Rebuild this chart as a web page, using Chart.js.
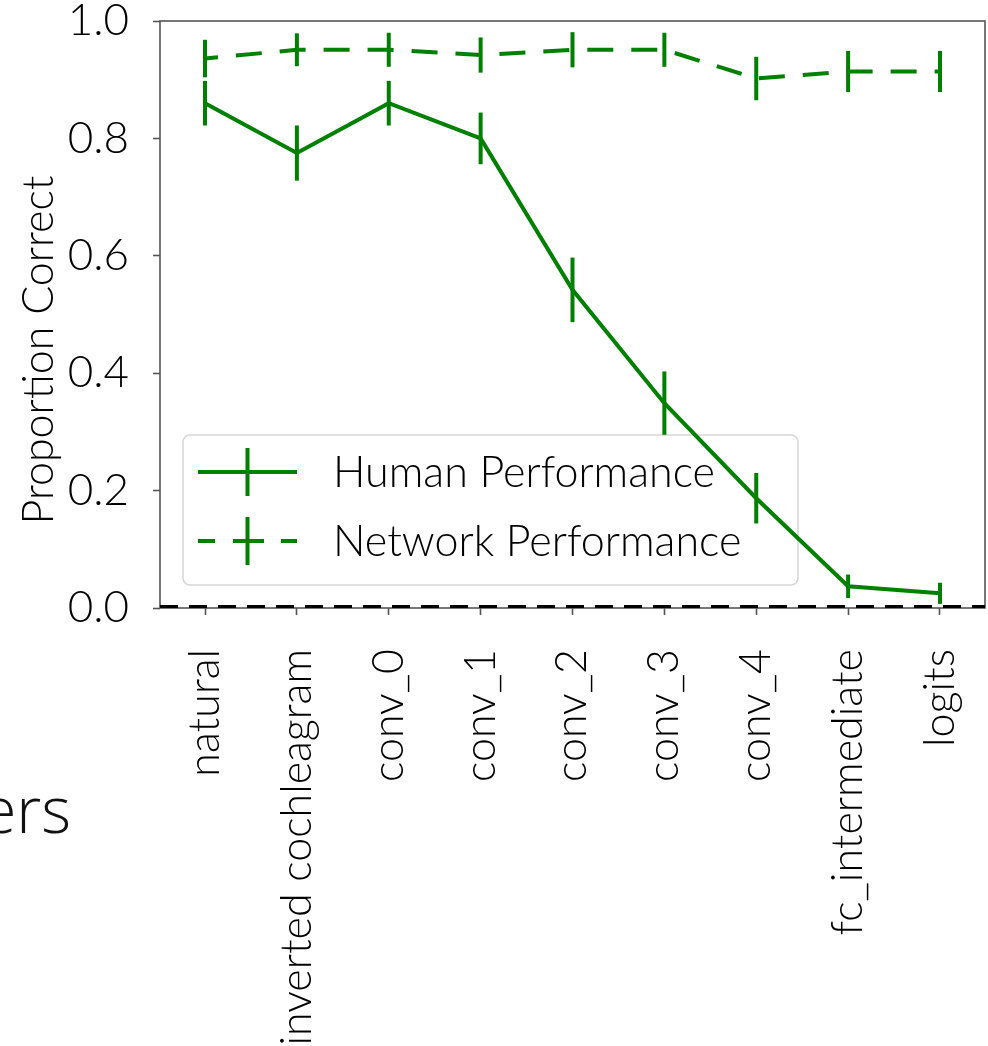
<!DOCTYPE html>
<html>
<head>
<meta charset="utf-8">
<script src="https://cdn.jsdelivr.net/npm/chart.js@4.4.1/dist/chart.umd.min.js"></script>
<style>
  html, body { margin: 0; padding: 0; background: #ffffff; }
  #wrap { width: 988px; height: 1046px; position: relative; }
  canvas { display: block; }
</style>
</head>
<body>
<div id="wrap"><canvas id="c" width="988" height="1046"></canvas></div>
<script>
// Model stages along the x axis
const stages = ['natural', 'inverted cochleagram', 'conv_0', 'conv_1', 'conv_2',
                'conv_3', 'conv_4', 'fc_intermediate', 'logits'];

// Proportion correct per stage, with error bar half-widths
const humanPerf  = [0.860, 0.775, 0.860, 0.800, 0.542, 0.349, 0.187, 0.037, 0.025];
const humanErr   = [0.038, 0.047, 0.038, 0.044, 0.055, 0.054, 0.043, 0.020, 0.018];
const networkPerf = [0.936, 0.951, 0.951, 0.942, 0.951, 0.951, 0.902, 0.914, 0.914];
const networkErr  = [0.032, 0.028, 0.029, 0.030, 0.030, 0.029, 0.037, 0.035, 0.035];

// y-axis tick values
const yTicks = [0.0, 0.2, 0.4, 0.6, 0.8, 1.0];

const seriesNames = ['Human Performance', 'Network Performance'];
const yTitle = 'Proportion Correct';
const GREEN = '#008000';
const TEXT = '#000000';
const FONT = 'Lato, "Open Sans", sans-serif';
const WEIGHT = 300;

const toPoints = arr => arr.map((v, i) => ({ x: i, y: v }));

// Keep the plot box fixed: no extra room for overhanging tick labels
function noOverhang(scale) {
  scale.paddingTop = 0;
  scale.paddingBottom = 0;
  scale.paddingLeft = 0;
  scale.paddingRight = 0;
}

// Vertical error bars drawn through the scales
const errorBars = {
  id: 'errorBars',
  afterDatasetsDraw(chart) {
    const { ctx, scales: { x, y }, chartArea } = chart;
    ctx.save();
    ctx.beginPath();
    ctx.rect(chartArea.left, chartArea.top, chartArea.right - chartArea.left, chartArea.bottom - chartArea.top);
    ctx.clip();
    chart.data.datasets.forEach(ds => {
      if (!ds.errors) return;
      ctx.strokeStyle = ds.borderColor;
      ctx.lineWidth = 4;
      ctx.lineCap = 'butt';
      ctx.setLineDash([]);
      ds.data.forEach((p, i) => {
        const px = x.getPixelForValue(p.x);
        const y1 = y.getPixelForValue(p.y + ds.errors[i]);
        const y2 = y.getPixelForValue(p.y - ds.errors[i]);
        ctx.beginPath();
        ctx.moveTo(px, y1);
        ctx.lineTo(px, y2);
        ctx.stroke();
      });
    });
    ctx.restore();
  }
};

// Frame, legend, axis title, dashed zero line and the stray caption
const decorations = {
  id: 'decorations',
  beforeDatasetsDraw(chart) {
    const { ctx, chartArea: a } = chart;
    ctx.save();
    ctx.strokeStyle = '#555555';
    ctx.lineWidth = 1.6;
    ctx.strokeRect(a.left, a.top, a.right - a.left, a.bottom - a.top);

    // y-axis title
    ctx.save();
    ctx.translate(53, 350);
    ctx.rotate(-Math.PI / 2);
    ctx.font = WEIGHT + ' 43px ' + FONT;
    ctx.fillStyle = TEXT;
    ctx.textAlign = 'center';
    ctx.textBaseline = 'alphabetic';
    ctx.fillText(yTitle, 0, 0);
    ctx.restore();

    // legend
    const bx = 183, by = 435, bw = 615, bh = 150, r = 7;
    ctx.fillStyle = 'rgba(255,255,255,0.8)';
    ctx.strokeStyle = '#d6d6d6';
    ctx.lineWidth = 1.5;
    ctx.beginPath();
    ctx.roundRect(bx, by, bw, bh, r);
    ctx.fill();
    ctx.stroke();

    const rows = [472, 541];
    ctx.strokeStyle = GREEN;
    ctx.lineWidth = 4;
    ctx.beginPath();
    ctx.moveTo(198, rows[0]); ctx.lineTo(297, rows[0]);
    ctx.stroke();
    [[198, 215], [233, 264], [281, 297]].forEach(s => {
      ctx.beginPath();
      ctx.moveTo(s[0], rows[1]); ctx.lineTo(s[1], rows[1]);
      ctx.stroke();
    });
    rows.forEach(ry => {
      ctx.beginPath();
      ctx.moveTo(247.5, ry - 24); ctx.lineTo(247.5, ry + 24);
      ctx.stroke();
    });
    ctx.fillStyle = TEXT;
    ctx.font = WEIGHT + ' 43px ' + FONT;
    ctx.textBaseline = 'alphabetic';
    ctx.textAlign = 'left';
    ctx.fillText(seriesNames[0], 333, rows[0] + 15);
    ctx.fillText(seriesNames[1], 333, rows[1] + 15);
    ctx.restore();
  },
  afterDraw(chart) {
    const { ctx, chartArea: a, scales: { y } } = chart;
    ctx.save();
    const y0 = y.getPixelForValue(0) - 1.5;
    ctx.strokeStyle = '#000000';
    ctx.lineWidth = 3;
    ctx.setLineDash([18, 11]);
    ctx.beginPath();
    ctx.moveTo(a.left, y0);
    ctx.lineTo(a.right, y0);
    ctx.stroke();
    ctx.setLineDash([]);

    ctx.font = '300 64px "Open Sans", sans-serif';
    ctx.textAlign = 'right';
    ctx.fillStyle = '#111111';
    ctx.fillText('ers', 71, 833);
    ctx.restore();
  }
};

new Chart(document.getElementById('c'), {
  type: 'line',
  data: {
    datasets: [
      {
        label: seriesNames[0],
        data: toPoints(humanPerf),
        errors: humanErr,
        borderColor: GREEN,
        backgroundColor: GREEN,
        borderWidth: 4,
        pointRadius: 0,
        tension: 0,
        fill: false
      },
      {
        label: seriesNames[1],
        data: toPoints(networkPerf),
        errors: networkErr,
        borderColor: GREEN,
        backgroundColor: GREEN,
        borderWidth: 4,
        borderDash: [26, 18],
        borderDashOffset: 13,
        pointRadius: 0,
        tension: 0,
        fill: false
      }
    ]
  },
  options: {
    responsive: false,
    animation: false,
    devicePixelRatio: 1,
    layout: { padding: { top: 21, right: 3, left: 0, bottom: 0 } },
    plugins: { legend: { display: false }, tooltip: { enabled: false } },
    scales: {
      x: {
        type: 'linear',
        min: -0.49,
        max: 8.49,
        afterBuildTicks(scale) {
          scale.ticks = stages.map((_, i) => ({ value: i }));
        },
        afterFit(scale) { scale.height = 438; noOverhang(scale); },
        ticks: {
          autoSkip: false,
          minRotation: 90,
          maxRotation: 90,
          padding: 34,
          color: TEXT,
          font: { family: FONT, size: 43, weight: WEIGHT },
          callback: v => stages[v]
        },
        grid: {
          display: true,
          drawOnChartArea: false,
          drawTicks: true,
          tickLength: 7,
          tickWidth: 1.6,
          tickColor: '#555555'
        },
        border: { display: false }
      },
      y: {
        type: 'linear',
        min: 0,
        max: 1,
        afterBuildTicks(scale) {
          scale.ticks = yTicks.map(v => ({ value: v }));
        },
        afterFit(scale) { scale.width = 160; noOverhang(scale); },
        ticks: {
          padding: 24,
          color: TEXT,
          font: { family: FONT, size: 44, weight: WEIGHT },
          callback: v => v.toFixed(1)
        },
        grid: {
          display: true,
          drawOnChartArea: false,
          drawTicks: true,
          tickLength: 7,
          tickWidth: 1.6,
          tickColor: '#555555'
        },
        border: { display: false }
      }
    }
  },
  plugins: [errorBars, decorations]
});
</script>
</body>
</html>
